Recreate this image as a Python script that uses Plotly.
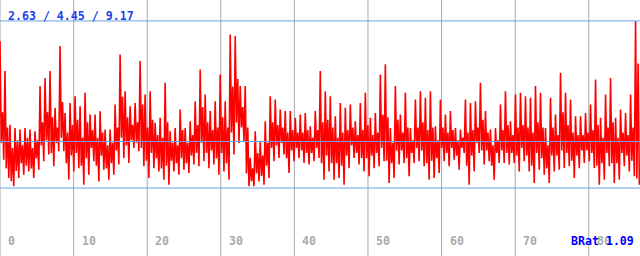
import plotly.graph_objects as go

# Local peaks / troughs, one per ~5 px column group
seg_hi = [
    8.38, 7.21, 5.11, 4.98, 4.92, 4.98, 4.92, 4.85, 6.62, 6.94, 7.21, 5.77, 8.19, 5.57, 5.96, 6.22,
    5.83, 6.36, 5.51, 5.51, 5.64, 4.92, 4.92, 5.90, 7.86, 6.42, 5.83, 5.96, 7.60, 6.29, 6.42, 5.18,
    5.38, 6.75, 4.85, 4.98, 5.70, 4.98, 5.24, 6.03, 7.27, 6.29, 5.64, 6.03, 7.07, 6.03, 8.64, 8.58,
    6.62, 6.62, 3.81, 4.85, 4.46, 5.24, 6.22, 6.09, 5.70, 5.64, 5.64, 5.38, 5.51, 5.57, 5.05, 5.64,
    7.21, 6.42, 6.22, 5.44, 5.96, 5.77, 5.90, 5.24, 5.96, 6.36, 5.38, 5.57, 7.07, 7.47, 4.98, 6.62,
    5.51, 6.36, 4.98, 6.09, 6.42, 6.16, 6.42, 5.05, 6.09, 5.51, 5.64, 4.98, 4.92, 6.09, 5.96, 6.03,
    6.75, 5.64, 4.92, 4.98, 5.90, 6.42, 5.24, 6.29, 6.36, 6.22, 6.16, 6.62, 6.36, 4.98, 6.16, 5.51,
    7.14, 6.36, 6.09, 5.44, 5.44, 5.57, 5.90, 6.88, 5.38, 6.29, 6.94, 5.38, 5.70, 5.57, 6.29, 9.17,
]
seg_lo = [
    3.74, 3.02, 2.70, 3.02, 3.15, 3.28, 3.02, 3.35, 3.68, 3.94, 3.48, 4.07, 4.07, 2.96, 3.28, 3.41,
    2.76, 3.15, 3.68, 2.89, 3.35, 2.96, 3.15, 3.55, 3.81, 3.61, 4.20, 4.07, 3.48, 3.02, 3.41, 3.28,
    2.96, 2.76, 3.28, 3.15, 3.35, 3.22, 3.55, 3.48, 3.68, 3.41, 3.55, 3.15, 3.28, 2.96, 3.94, 4.39,
    4.46, 2.70, 2.70, 2.89, 2.76, 3.02, 3.68, 3.81, 3.94, 3.22, 3.68, 3.81, 3.61, 3.55, 3.68, 3.81,
    2.96, 3.28, 2.96, 3.02, 2.76, 3.41, 3.81, 3.55, 3.28, 3.09, 3.41, 3.48, 3.68, 2.83, 3.02, 3.55,
    3.61, 3.09, 3.61, 3.68, 3.48, 2.96, 3.02, 3.22, 3.68, 3.48, 3.74, 3.35, 4.00, 2.76, 3.28, 4.00,
    3.55, 3.68, 2.96, 3.61, 3.61, 3.55, 3.61, 3.28, 3.68, 3.28, 2.83, 3.35, 3.15, 2.83, 3.28, 3.35,
    3.41, 3.48, 3.02, 3.41, 3.61, 3.68, 3.41, 2.76, 2.96, 3.48, 2.83, 2.96, 3.48, 3.28, 3.09, 2.76,
]
# Inner (dense core) swings within each column group
inner_hi = [
    5.6, 5.0, 4.2, 4.5, 4.3, 4.6, 4.2, 4.5, 5.2, 5.6, 5.4, 5.0, 6.0, 4.8, 5.1, 5.3,
    4.6, 5.2, 4.9, 4.6, 4.8, 4.3, 4.4, 5.0, 6.2, 5.4, 5.1, 5.2, 5.9, 5.0, 5.3, 4.7,
    4.6, 5.2, 4.4, 4.3, 4.9, 4.4, 4.7, 5.1, 5.8, 5.2, 4.9, 5.0, 5.4, 5.0, 6.6, 6.9,
    5.8, 5.0, 3.4, 4.0, 3.9, 4.4, 5.2, 5.1, 5.0, 4.8, 4.9, 4.8, 4.8, 4.9, 4.6, 4.9,
    5.2, 5.3, 5.0, 4.6, 4.8, 4.9, 5.0, 4.7, 4.9, 5.1, 4.7, 4.8, 5.5, 5.4, 4.4, 5.3,
    4.8, 5.0, 4.5, 5.0, 5.2, 4.9, 5.0, 4.5, 5.0, 4.8, 4.9, 4.5, 4.6, 4.8, 4.9, 5.0,
    5.3, 4.8, 4.3, 4.5, 4.9, 5.1, 4.7, 5.0, 5.1, 5.0, 4.8, 5.2, 5.0, 4.3, 5.0, 4.7,
    5.6, 5.1, 4.8, 4.7, 4.7, 4.8, 4.9, 5.1, 4.6, 5.0, 5.2, 4.6, 4.8, 4.7, 5.0, 7.5,
]
inner_lo = [
    4.4, 3.4, 2.9, 3.3, 3.6, 3.5, 3.4, 3.8, 4.3, 4.5, 4.0, 4.4, 4.6, 3.6, 3.9, 4.0,
    3.5, 3.8, 4.2, 3.5, 3.9, 3.4, 3.6, 4.1, 4.6, 4.3, 4.5, 4.4, 4.2, 3.7, 4.0, 3.8,
    3.4, 3.5, 3.7, 3.6, 3.8, 3.6, 3.9, 4.0, 4.4, 4.0, 4.1, 3.8, 4.0, 3.6, 4.8, 5.2,
    5.0, 3.2, 2.9, 3.2, 3.1, 3.5, 4.2, 4.3, 4.4, 3.8, 4.1, 4.2, 4.1, 4.0, 4.0, 4.2,
    3.6, 3.9, 3.6, 3.6, 3.5, 3.9, 4.3, 4.0, 3.8, 3.8, 3.9, 4.0, 4.2, 3.7, 3.6, 4.1,
    4.1, 3.8, 4.0, 4.2, 4.1, 3.6, 3.7, 3.8, 4.2, 4.0, 4.2, 3.9, 4.2, 3.5, 3.9, 4.4,
    4.1, 4.1, 3.5, 4.0, 4.1, 4.0, 4.0, 3.9, 4.2, 3.9, 3.5, 4.0, 3.8, 3.4, 3.9, 3.9,
    4.1, 4.0, 3.7, 3.9, 4.1, 4.1, 4.0, 3.5, 3.6, 4.0, 3.6, 3.6, 4.0, 3.9, 3.7, 3.0,
]

values = []
for h, il, ih, l in zip(seg_hi, inner_lo, inner_hi, seg_lo):
    values += [h, il, ih, l]
x_step = 0.17
x_vals = [i * x_step for i in range(len(values))]

stat_min, stat_mean, stat_max = 2.63, 4.45, 9.17
stats_label = "2.63 / 4.45 / 9.17"
x_ticks = [0, 10, 20, 30, 40, 50, 60, 70, 80]
corner_label = "BRat 1.09"

X_RANGE = [0, 86.96]
Y_RANGE = [-0.03, 9.99]
FONT = "DejaVu Sans Mono"

fig = go.Figure()
fig.add_trace(go.Scatter(x=x_vals, y=values, mode="lines",
                         line=dict(color="#ff0000", width=1.6), hoverinfo="skip"))

shapes = []
for t in x_ticks:
    shapes.append(dict(type="line", xref="x", yref="paper", x0=t, x1=t, y0=0, y1=1,
                       line=dict(color="#aaaaaa", width=1), layer="below"))
for v in (stat_max, stat_mean, stat_min):
    shapes.append(dict(type="line", xref="paper", yref="y", x0=0, x1=1, y0=v, y1=v,
                       line=dict(color="#6aa4e6", width=1), layer="above"))

annotations = []
for t in x_ticks:
    annotations.append(dict(x=t, xref="x", y=1 - 241 / 256, yref="paper", text="<b>%d</b>" % t,
                            showarrow=False, xanchor="left", yanchor="middle", xshift=6,
                            font=dict(family=FONT, size=11.6, color="#aaaaaa")))
annotations.append(dict(x=6 / 640, xref="paper", y=1 - 15.5 / 256, yref="paper",
                        text="<b>%s</b>" % stats_label, showarrow=False,
                        xanchor="left", yanchor="middle",
                        font=dict(family=FONT, size=11.6, color="#1f3fe6")))
annotations.append(dict(x=569 / 640, xref="paper", y=1 - 241 / 256, yref="paper",
                        text="<b>%s</b>" % corner_label, showarrow=False,
                        xanchor="left", yanchor="middle",
                        font=dict(family=FONT, size=11.6, color="#0000ff")))

fig.update_layout(
    width=640, height=256, margin=dict(l=0, r=0, t=0, b=0),
    paper_bgcolor="white", plot_bgcolor="white", showlegend=False,
    xaxis=dict(range=X_RANGE, visible=False, fixedrange=True),
    yaxis=dict(range=Y_RANGE, visible=False, fixedrange=True),
    shapes=shapes, annotations=annotations,
)
fig.write_html("out.html", config={"displayModeBar": False})
